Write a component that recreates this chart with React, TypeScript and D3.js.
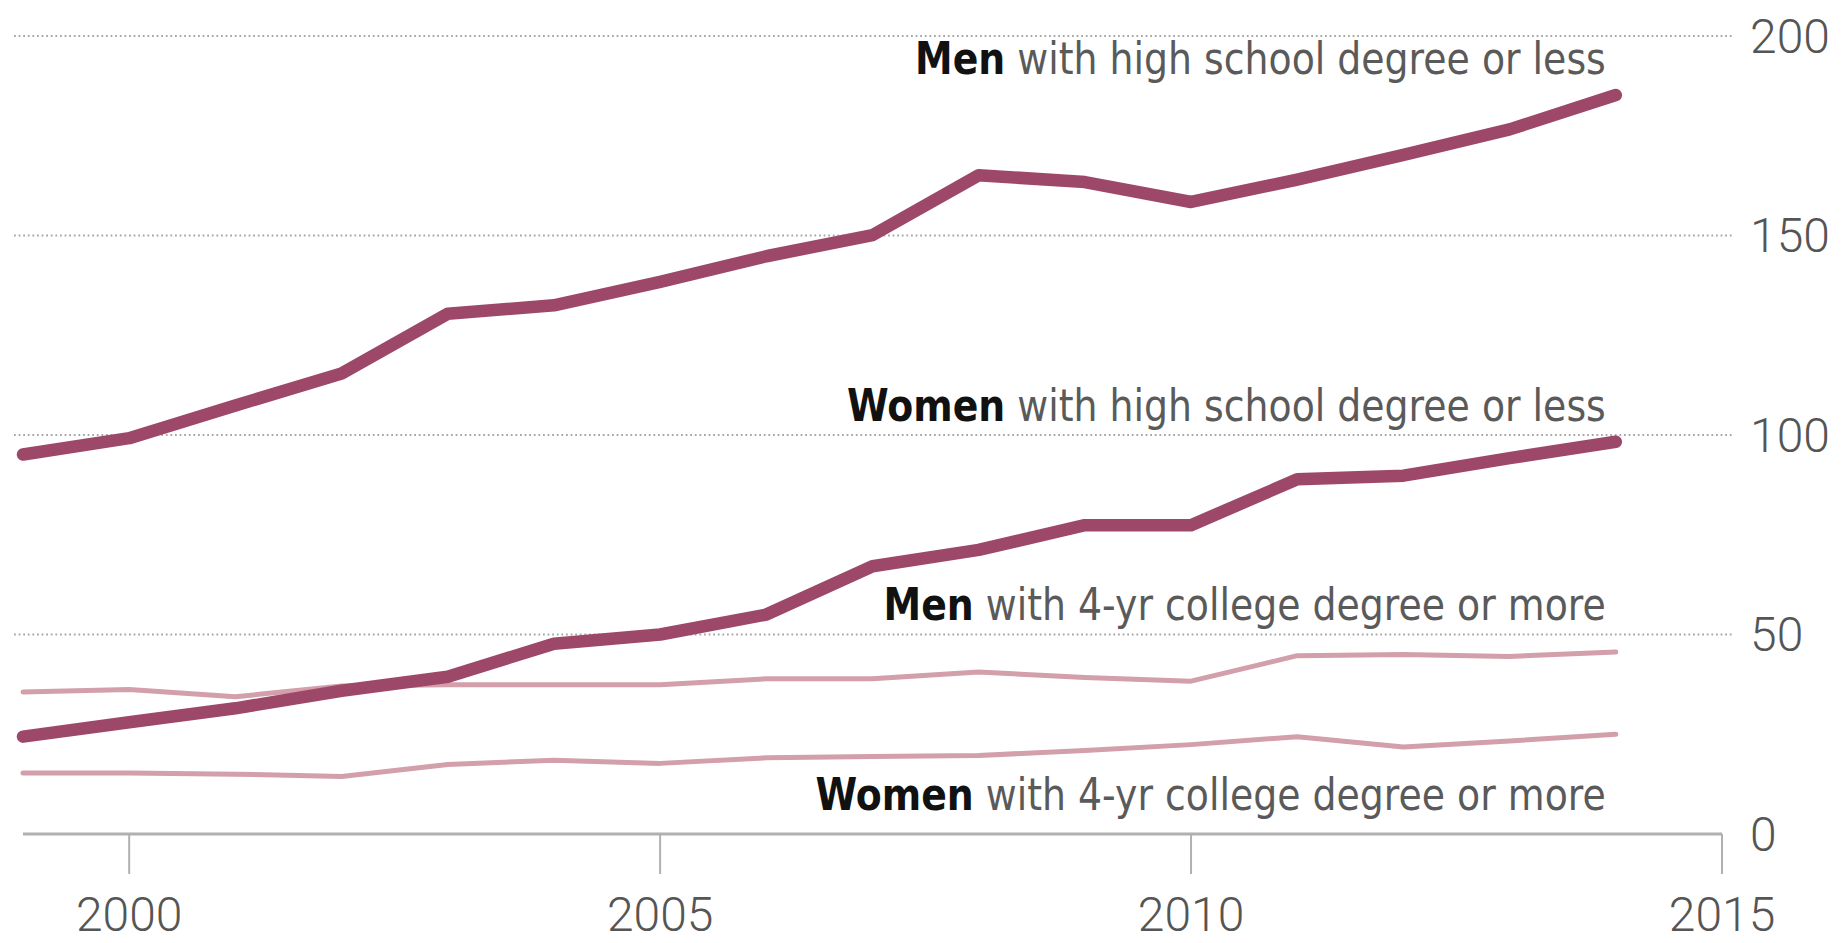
import React from 'react';
import * as d3 from 'd3';

const years = [1999, 2000, 2001, 2002, 2003, 2004, 2005, 2006, 2007, 2008, 2009, 2010, 2011, 2012, 2013, 2014];
const menHS = [95.1, 99.2, 107.4, 115.4, 130.4, 132.5, 138.4, 144.8, 150.1, 165.1, 163.4, 158.4, 164, 170.2, 176.6, 185.2];
const womenHS = [24.4, 28, 31.5, 35.9, 39.4, 47.7, 50, 55, 67.1, 71.2, 77.4, 77.4, 88.9, 89.8, 94.2, 98.3];
const menCollege = [35.6, 36.2, 34.4, 37.1, 37.4, 37.4, 37.4, 38.9, 38.9, 40.6, 39.2, 38.3, 44.7, 45, 44.5, 45.6];
const womenCollege = [15.3, 15.3, 15, 14.4, 17.4, 18.5, 17.7, 19.1, 19.4, 19.7, 20.9, 22.4, 24.4, 21.8, 23.3, 25];

const yTicks = [0, 50, 100, 150, 200];
const xTicks = [2000, 2005, 2010, 2015];

const labelBold = ['Men', 'Women', 'Men', 'Women'];
const labelRest = [
  ' with high school degree or less',
  ' with high school degree or less',
  ' with 4-yr college degree or more',
  ' with 4-yr college degree or more',
];
const labelValues = [190.5, 103.6, 53.6, 5.9];

export default function App() {
  const W = 1842;
  const H = 943;
  const x = d3.scaleLinear().domain([1999, 2015]).range([23, 1722]);
  const y = d3.scaleLinear().domain([0, 200]).range([834, 36]);
  const line = d3
    .line<number>()
    .x((_, i) => x(years[i]))
    .y((d) => y(d));

  const thin = [menCollege, womenCollege];
  const thick = [womenHS, menHS];
  const labelX = x(years[years.length - 1]) - 10;

  return (
    <svg width={W} height={H} style={{ position: 'absolute', left: 0, top: 0, background: '#fff' }}>
      {yTicks.filter((t) => t > 0).map((t) => (
        <line key={'g' + t} x1={14} x2={1733} y1={y(t)} y2={y(t)} stroke="#a8a8a8" strokeWidth={2} strokeDasharray="1.8,2.8" />
      ))}
      <line x1={x(1999)} x2={x(2015)} y1={y(0)} y2={y(0)} stroke="#b0b0b0" strokeWidth={3} />
      {xTicks.map((t) => (
        <g key={'x' + t}>
          <line x1={x(t)} x2={x(t)} y1={y(0)} y2={y(0) + 40} stroke="#b0b0b0" strokeWidth={2} />
          <text x={x(t)} y={931} textAnchor="middle" fontFamily="Roboto, sans-serif" fontWeight={300} fontSize={48} fill="#555">
            {t}
          </text>
        </g>
      ))}
      {yTicks.map((t) => (
        <text key={'y' + t} x={1750} y={y(t)} dy="0.35em" fontFamily="Roboto, sans-serif" fontWeight={300} fontSize={48} fill="#555">
          {t}
        </text>
      ))}
      {thin.map((s, i) => (
        <path key={'t' + i} d={line(s) || ''} fill="none" stroke="#d29fab" strokeWidth={5} strokeLinejoin="round" strokeLinecap="round" />
      ))}
      {thick.map((s, i) => (
        <path key={'k' + i} d={line(s) || ''} fill="none" stroke="#9d4868" strokeWidth={12.5} strokeLinejoin="round" strokeLinecap="round" />
      ))}
      {labelBold.map((b, i) => (
        <text
          key={'l' + i}
          transform={`translate(${labelX},${y(labelValues[i])}) scale(0.86,1)`}
          textAnchor="end"
          fontFamily="'DejaVu Sans', sans-serif"
          fontSize={44}
        >
          <tspan fontWeight="bold" fill="#111">{b}</tspan>
          <tspan fill="#5a5a5a">{labelRest[i]}</tspan>
        </text>
      ))}
    </svg>
  );
}
